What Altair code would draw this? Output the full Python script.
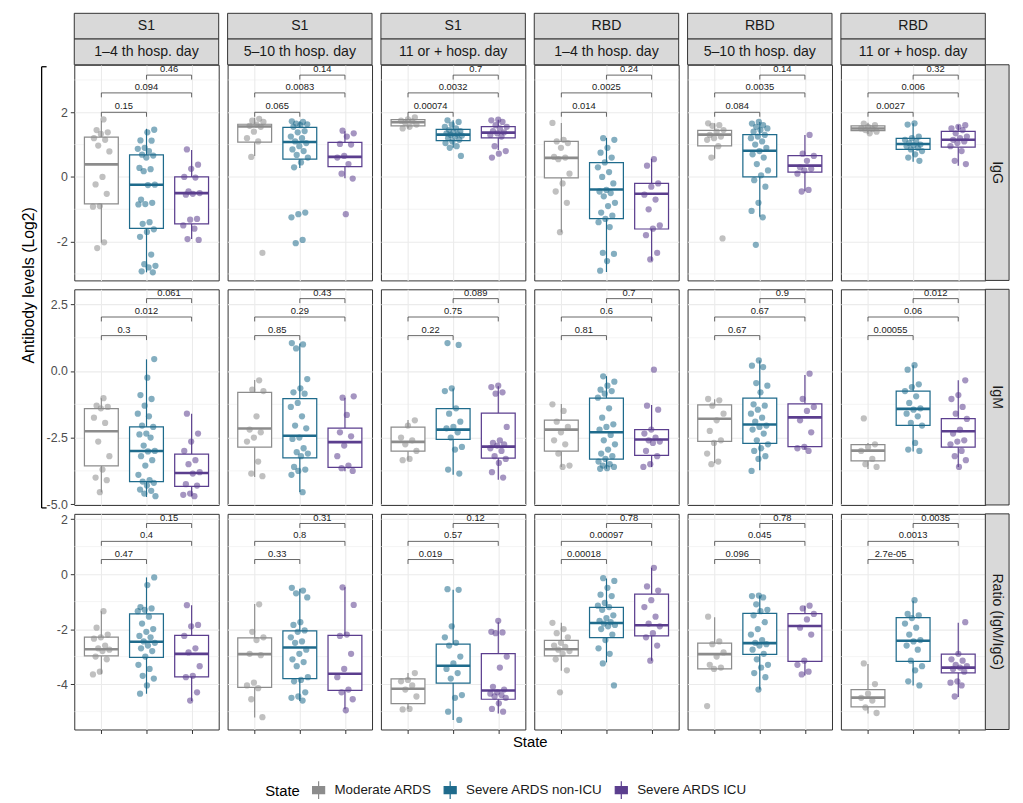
import altair as alt
import pandas as pd

# ---------------- categories / labels ----------------
STATES = ["Moderate ARDS", "Severe ARDS non-ICU", "Severe ARDS ICU"]
COLORS = ["#8C8C8C", "#1F6B8C", "#5B3E8E"]
ANTIGENS = ["S1", "S1", "S1", "RBD", "RBD", "RBD"]
PERIODS = ["1–4 th hosp. day", "5–10 th hosp. day", "11 or + hosp. day",
           "1–4 th hosp. day", "5–10 th hosp. day", "11 or + hosp. day"]
MEASURES = ["IgG", "IgM", "Ratio (IgM/IgG)"]
Y_TITLE = "Antibody levels (Log2)"
X_TITLE = "State"

# ---------------- points (per panel: [moderate, severe non-ICU, severe ICU]) ----------------
IGG_S1_D1 = [
    [1.78, 1.45, 1.38, 1.33, 1.2, 1.15, 0.97, 0.79, 0.0, -0.23, -0.52, -0.9, -0.92, -2.02, -2.2],
    [1.46, 1.38, 1.13, 1.12, 0.9, 0.87, 0.8, 0.69, 0.66, 0.6, 0.28, 0.24, 0.18, -0.24, -0.25, -0.7, -0.8,
     -0.84, -0.85, -1.4, -1.45, -1.62, -1.7, -1.85, -2.4, -2.7, -2.75, -2.8, -2.92, -2.95],
    [0.85, 0.38, 0.25, 0.0, -0.02, -0.45, -0.5, -0.52, -0.55, -1.3, -1.32, -1.5, -1.6, -1.92, -1.95],
]
IGG_S1_D2 = [
    [1.8, 1.74, 1.7, 1.62, 1.58, 1.55, 1.4, 1.2, 1.1, 0.62, -2.35],
    [1.72, 1.7, 1.65, 1.63, 1.6, 1.55, 1.42, 1.38, 1.25, 1.2, 1.1, 1.05, 0.95, 0.85, 0.8, 0.68, 0.6, 0.45,
     0.3, -1.1, -1.15, -1.25, -1.95, -2.05],
    [1.43, 1.35, 1.25, 1.02, 1.0, 0.65, 0.6, 0.4, 0.1, -0.05, -1.15],
]
IGG_S1_D3 = [
    [1.84, 1.78, 1.74, 1.72, 1.68, 1.62, 1.55, 1.5],
    [1.75, 1.7, 1.62, 1.55, 1.5, 1.45, 1.42, 1.38, 1.35, 1.32, 1.3, 1.28, 1.25, 1.2, 1.15, 1.1, 1.05, 0.95,
     0.9, 0.65],
    [1.77, 1.75, 1.7, 1.6, 1.55, 1.5, 1.42, 1.38, 1.35, 1.3, 1.25, 0.95, 0.8, 0.72, 0.6],
]
IGG_RBD_D1 = [
    [1.67, 1.15, 1.1, 1.05, 0.9, 0.62, 0.6, 0.55, 0.1, -0.2, -0.45, -0.8, -1.71],
    [1.2, 1.15, 0.9, 0.75, 0.6, 0.45, 0.3, 0.15, 0.0, -0.2, -0.4, -0.45, -0.5, -0.6, -0.8, -0.9, -1.1,
     -1.2, -1.3, -1.4, -1.55, -2.35, -2.38, -2.6, -2.9],
    [0.55, 0.35, -0.2, -0.3, -0.55, -0.7, -1.0, -1.5, -1.6, -1.8, -2.35, -2.55],
]
IGG_RBD_D2 = [
    [1.66, 1.6, 1.58, 1.45, 1.4, 1.3, 1.25, 1.2, 1.15, 0.95, 0.6, -1.9],
    [1.7, 1.65, 1.6, 1.55, 1.5, 1.45, 1.4, 1.3, 1.25, 1.2, 1.1, 1.0, 0.9, 0.8, 0.7, 0.6, 0.4, 0.2, 0.05,
     -0.1, -0.3, -0.8, -1.05, -1.25, -2.1],
    [1.3, 0.72, 0.65, 0.5, 0.3, 0.25, 0.2, 0.1, -0.4, -0.45],
]
IGG_RBD_D3 = [
    [1.65, 1.6, 1.55, 1.5, 1.48, 1.45, 1.4, 1.35],
    [1.66, 1.62, 1.25, 1.2, 1.15, 1.1, 1.05, 1.0, 0.98, 0.95, 0.9, 0.85, 0.8, 0.7, 0.6, 0.5],
    [1.6, 1.55, 1.5, 1.45, 1.35, 1.25, 1.2, 1.15, 1.1, 1.05, 0.95, 0.8, 0.5, 0.4],
]
IGM_S1_D1 = [
    [-1.02, -1.3, -1.35, -1.4, -1.75, -1.95, -2.65, -3.2, -3.7, -4.0, -4.1, -4.55],
    [0.45, -0.25, -0.9, -1.05, -1.3, -1.6, -1.7, -2.05, -2.1, -2.35, -2.38, -2.5, -2.8, -3.0, -3.02, -3.2,
     -3.35, -3.55, -3.9, -4.1, -4.15, -4.2, -4.3, -4.45, -4.5, -4.6, -4.7],
    [-1.6, -2.35, -2.65, -3.0, -3.35, -3.5, -3.8, -3.85, -4.25, -4.3, -4.6, -4.65, -4.7],
]
IGM_S1_D2 = [
    [-0.35, -0.7, -0.75, -1.7, -2.2, -2.3, -2.5, -2.65, -3.4, -3.85, -3.95],
    [1.05, 1.0, 0.85, -0.3, -0.65, -0.8, -0.85, -1.2, -1.35, -1.7, -2.05, -2.15, -2.5, -2.55, -2.9, -3.05,
     -3.1, -3.2, -3.6, -3.7, -3.75, -3.9, -4.55],
    [-1.0, -0.95, -1.65, -2.3, -2.45, -2.8, -3.2, -3.55, -3.65, -3.75],
]
IGM_S1_D3 = [
    [-1.85, -2.05, -2.5, -2.6, -2.75, -3.0, -3.3, -3.35],
    [1.05, 0.98, -0.65, -0.75, -1.4, -1.6, -1.9, -2.1, -2.15, -2.3, -2.5, -2.85, -2.95, -3.7, -3.85],
    [-0.55, -0.6, -0.8, -0.85, -2.1, -2.6, -2.7, -2.75, -2.8, -2.9, -3.0, -3.2, -3.3, -3.45, -3.8, -4.0],
]
IGM_RBD_D1 = [
    [-1.25, -1.5, -1.9, -2.1, -2.3, -2.6, -2.75, -3.1, -3.55, -3.6],
    [-0.2, -0.4, -0.55, -0.7, -0.75, -0.85, -1.0, -1.4, -1.75, -2.0, -2.1, -2.2, -2.4, -2.6, -2.75, -2.95,
     -3.1, -3.2, -3.3, -3.4, -3.5, -3.55, -3.6, -3.65, -3.67],
    [0.05, -1.3, -1.45, -2.2, -2.35, -2.5, -2.6, -2.65, -2.7, -3.0, -3.2, -3.5, -3.6],
]
IGM_RBD_D2 = [
    [-1.05, -1.1, -1.3, -1.6, -1.85, -2.25, -2.6, -2.7, -3.1, -3.4, -3.5],
    [0.4, 0.2, 0.15, -0.45, -0.55, -0.8, -1.25, -1.3, -1.45, -1.6, -1.75, -1.9, -2.05, -2.1, -2.2, -2.35,
     -2.6, -2.75, -2.9, -3.0, -3.2, -3.3, -3.75],
    [-0.1, -1.05, -1.35, -1.5, -1.85, -2.3, -2.85, -2.9, -3.0],
]
IGM_RBD_D3 = [
    [-1.78, -2.75, -2.85, -3.0, -3.3, -3.5, -3.6],
    [0.22, 0.05, -0.5, -0.6, -0.75, -0.95, -1.2, -1.4, -1.45, -1.6, -1.7, -1.95, -2.05, -2.7, -2.95, -3.0],
    [-0.35, -0.9, -1.05, -1.35, -1.6, -1.8, -2.2, -2.35, -2.6, -2.65, -2.75, -3.0, -3.2, -3.35, -3.6],
]
RAT_S1_D1 = [
    [-1.35, -1.95, -2.2, -2.3, -2.35, -2.6, -2.7, -2.75, -2.8, -3.0, -3.1, -3.55, -3.65],
    [-0.12, -0.4, -1.2, -1.25, -1.3, -1.35, -1.55, -1.8, -2.0, -2.1, -2.25, -2.3, -2.45, -2.5, -2.6, -2.7,
     -2.8, -3.0, -3.3, -3.45, -3.7, -3.8, -4.05, -4.35],
    [-1.13, -1.85, -1.9, -2.25, -2.7, -2.85, -3.35, -3.7, -3.75, -4.3, -4.6],
]
RAT_S1_D2 = [
    [-1.1, -2.1, -2.3, -2.4, -2.9, -2.95, -3.95, -4.05, -4.15, -4.55, -5.2],
    [-0.5, -0.6, -0.7, -0.85, -1.75, -1.85, -2.05, -2.1, -2.3, -2.45, -2.5, -2.75, -2.9, -3.1, -3.2, -3.35,
     -3.75, -3.85, -3.9, -4.3, -4.45, -4.5, -4.6],
    [-0.48, -1.12, -2.2, -2.25, -2.9, -3.45, -3.75, -4.2, -4.3, -4.55, -4.95],
]
RAT_S1_D3 = [
    [-3.6, -3.85, -3.9, -4.05, -4.2, -4.45, -4.9, -4.92],
    [-0.55, -0.57, -1.9, -2.3, -2.5, -2.6, -3.0, -3.25, -3.45, -3.6, -3.8, -4.4, -4.5, -5.0, -5.3],
    [-1.7, -2.1, -2.12, -2.15, -3.0, -3.4, -4.1, -4.2, -4.3, -4.35, -4.4, -4.45, -4.5, -4.7, -4.9, -5.0],
]
RAT_RBD_D1 = [
    [-1.77, -2.0, -2.15, -2.3, -2.5, -2.6, -2.65, -2.75, -2.8, -2.9, -3.1, -3.5, -4.3],
    [-0.15, -0.25, -0.5, -0.75, -0.8, -1.05, -1.15, -1.2, -1.3, -1.5, -1.6, -1.7, -1.75, -1.8, -1.85, -1.9,
     -2.0, -2.2, -2.4, -2.7, -2.9, -3.25, -4.05],
    [0.23, -0.45, -0.6, -0.95, -1.2, -1.55, -1.8, -1.9, -2.15, -2.3, -2.6, -3.15],
]
RAT_RBD_D2 = [
    [-1.55, -2.45, -2.55, -2.85, -3.0, -3.3, -3.4, -3.45, -4.8],
    [-0.78, -0.8, -0.85, -1.1, -1.3, -1.35, -1.5, -1.75, -2.0, -2.2, -2.4, -2.5, -2.55, -2.6, -2.75, -2.9,
     -3.1, -3.3, -3.4, -3.6, -3.75, -4.2],
    [-1.15, -1.25, -1.45, -1.65, -1.95, -2.2, -3.15, -3.3, -3.55, -3.65],
]
RAT_RBD_D3 = [
    [-3.25, -4.0, -4.35, -4.5, -4.6, -4.85, -5.05],
    [-0.95, -1.45, -1.5, -1.6, -1.8, -1.95, -2.2, -2.4, -2.45, -2.6, -2.75, -3.15, -3.35, -3.5, -3.9, -4.05],
    [-1.75, -2.9, -3.1, -3.15, -3.3, -3.35, -3.4, -3.45, -3.55, -3.9, -3.95, -4.05, -4.45],
]

# ---------------- box statistics: [lower whisker, Q1, median, Q3, upper whisker] ----------------
IGG_BOX = [
    [[-2.03, -0.83, 0.39, 1.23, 1.74], [-2.95, -1.59, -0.24, 0.68, 1.49], [-1.92, -1.45, -0.5, 0.0, 0.83]],
    [[0.65, 1.08, 1.56, 1.63, 1.83], [0.28, 0.55, 1.08, 1.53, 1.72], [-0.04, 0.32, 0.62, 1.07, 1.41]],
    [[1.5, 1.58, 1.69, 1.77, 1.85], [0.9, 1.12, 1.31, 1.47, 1.75], [0.83, 1.21, 1.37, 1.56, 1.77]],
    [[-1.71, -0.03, 0.59, 1.1, 1.67], [-2.94, -1.29, -0.39, 0.44, 1.21], [-2.59, -1.61, -0.52, -0.2, 0.56]],
    [[0.56, 0.96, 1.31, 1.44, 1.66], [-1.23, 0.0, 0.81, 1.31, 1.7], [-0.44, 0.15, 0.35, 0.66, 1.3]],
    [[1.33, 1.43, 1.5, 1.58, 1.68], [0.47, 0.85, 1.02, 1.19, 1.66], [0.35, 0.92, 1.15, 1.41, 1.61]],
]
IGM_BOX = [
    [[-4.55, -3.56, -2.26, -1.41, -1.02], [-4.73, -4.15, -3.0, -2.1, 0.44], [-4.7, -4.33, -3.83, -3.12, -1.6]],
    [[-3.98, -2.86, -2.16, -0.8, -0.34], [-4.54, -3.26, -2.43, -1.04, 1.03], [-3.76, -3.62, -2.67, -2.14, -1.0]],
    [[-3.36, -3.01, -2.66, -2.11, -1.84], [-3.9, -2.57, -2.2, -1.41, -0.66], [-4.08, -3.27, -2.84, -1.58, -0.57]],
    [[-3.6, -3.01, -2.2, -1.84, -1.24], [-3.67, -3.31, -2.3, -1.02, -0.19], [-3.6, -3.17, -2.57, -2.2, -1.28]],
    [[-3.46, -2.64, -1.79, -1.27, -1.06], [-3.73, -2.72, -2.01, -1.02, 0.4], [-2.95, -2.84, -1.74, -1.23, -0.15]],
    [[-3.68, -3.37, -2.99, -2.76, -2.7], [-3.02, -2.04, -1.42, -0.75, 0.22], [-3.6, -2.86, -2.26, -1.79, -0.35]],
]
RAT_BOX = [
    [[-3.63, -2.97, -2.73, -2.29, -1.35], [-4.35, -3.03, -2.46, -1.45, -0.12], [-4.61, -3.74, -2.9, -2.23, -1.13]],
    [[-5.21, -4.12, -2.91, -2.32, -1.09], [-4.61, -3.8, -2.67, -2.06, -0.53], [-4.91, -4.23, -3.62, -2.23, -0.48]],
    [[-4.9, -4.71, -4.17, -3.81, -3.6], [-5.3, -3.96, -3.33, -2.55, -0.57], [-5.07, -4.55, -4.23, -2.89, -1.75]],
    [[-3.51, -2.97, -2.73, -2.41, -1.77], [-3.21, -2.31, -1.78, -1.21, -0.16], [-3.15, -2.25, -1.86, -0.73, 0.23]],
    [[-3.45, -3.45, -2.91, -2.51, -1.57], [-4.2, -2.92, -2.51, -1.43, -0.78], [-3.69, -3.17, -1.89, -1.44, -1.15]],
    [[-5.07, -4.83, -4.49, -4.2, -3.27], [-4.05, -3.17, -2.42, -1.58, -0.97], [-4.47, -3.59, -3.4, -2.91, -1.77]],
]

# ---------------- p-values: pairs (1-2), (1-3), (2-3) ----------------
P_IGG = [["0.15", "0.094", "0.46"], ["0.065", "0.0083", "0.14"], ["0.00074", "0.0032", "0.7"],
         ["0.014", "0.0025", "0.24"], ["0.084", "0.0035", "0.14"], ["0.0027", "0.006", "0.32"]]
P_IGM = [["0.3", "0.012", "0.061"], ["0.85", "0.29", "0.43"], ["0.22", "0.75", "0.089"],
         ["0.81", "0.6", "0.7"], ["0.67", "0.67", "0.9"], ["0.00055", "0.06", "0.012"]]
P_RAT = [["0.47", "0.4", "0.15"], ["0.33", "0.8", "0.31"], ["0.019", "0.57", "0.12"],
         ["0.00018", "0.00097", "0.78"], ["0.096", "0.045", "0.78"], ["2.7e-05", "0.0013", "0.0035"]]
PAIRS = [(1, 2), (1, 3), (2, 3)]
BRACKET_Y = [[2.0, 2.6, 3.15], [1.33, 2.03, 2.72], [0.53, 1.19, 1.84]]

# ---------------- axes ----------------
Y_DOMAINS = [[-3.2, 3.47], [-5.03, 3.07], [-5.65, 2.19]]
Y_TICKS = [[-2, 0, 2], [-5.0, -2.5, 0.0, 2.5], [-4, -2, 0, 2]]
Y_MINOR = [[-3, -1, 1, 3], [-3.75, -1.25, 1.25], [-5, -3, -1, 1]]
Y_FMT = [".0f", ".1f", ".0f"]

POINTS = [
    [IGG_S1_D1, IGG_S1_D2, IGG_S1_D3, IGG_RBD_D1, IGG_RBD_D2, IGG_RBD_D3],
    [IGM_S1_D1, IGM_S1_D2, IGM_S1_D3, IGM_RBD_D1, IGM_RBD_D2, IGM_RBD_D3],
    [RAT_S1_D1, RAT_S1_D2, RAT_S1_D3, RAT_RBD_D1, RAT_RBD_D2, RAT_RBD_D3],
]
BOXES = [IGG_BOX, IGM_BOX, RAT_BOX]
PVALS = [P_IGG, P_IGM, P_RAT]

# ---------------- style ----------------
W, H, GAP = 146, 218, 9
STRIP = 26
FONT = "Liberation Sans"
GRID = "#EBEBEB"
BORDER = "#333333"
STRIP_FILL = "#D9D9D9"
BOX_PATH = ("M-0.68,-0.4L0.68,-0.4L0.68,0.4L-0.68,0.4Z"
            "M-0.68,0L0.68,0M0,-0.4L0,-1M0,0.4L0,1")

LEGEND = alt.Legend(
    title=X_TITLE, orient="none", legendX=193, legendY=723, direction="horizontal",
    titleOrient="left", titleFontSize=15, titleFontWeight="normal", titleColor="#000000",
    titleFont=FONT, titlePadding=8, titleBaseline="middle",
    labelFontSize=13.5, labelColor="#1A1A1A", labelFont=FONT, labelOffset=6,
    symbolType=BOX_PATH, symbolSize=320, symbolStrokeWidth=1.2, symbolFillColor="white",
    columnPadding=8,
)

one = pd.DataFrame({"k": [0]})


def y_axis(r, c):
    kw = dict(values=Y_TICKS[r], grid=True, gridColor=GRID, gridWidth=1.1, domain=False)
    if c == 0:
        kw.update(labels=True, ticks=True, tickSize=4, tickColor=BORDER, tickWidth=1,
                  labelFontSize=12.5, labelColor="#4D4D4D", labelPadding=3, labelFont=FONT,
                  labelExpr="(datum.value < 0 ? '-' : '') + format(abs(datum.value), '%s')" % Y_FMT[r])
    else:
        kw.update(labels=False, ticks=False)
    if r == 0 and c == 0:
        kw.update(title=Y_TITLE, titleX=-38, titleY=H + GAP / 2, titleFontSize=16,
                  titleFontWeight="normal", titleColor="#000000", titleFont=FONT,
                  titleAlign="center", titleBaseline="bottom", titleAngle=270)
    else:
        kw.update(title=None)
    return alt.Axis(**kw)


def x_axis(r, c):
    kw = dict(values=[1, 2, 3], grid=True, gridColor=GRID, gridWidth=1.1, domain=False, labels=False)
    if r == 2:
        kw.update(ticks=True, tickSize=4, tickColor=BORDER, tickWidth=1)
    else:
        kw.update(ticks=False)
    if r == 2 and c == 2:
        kw.update(title=X_TITLE, titleX=W + GAP / 2, titleFontSize=15, titleFontWeight="normal",
                  titleColor="#000000", titleFont=FONT, titlePadding=1, titleAlign="center",
                  titleBaseline="top")
    else:
        kw.update(title=None)
    return alt.Axis(**kw)


def make_panel(r, c):
    pts, bx, pv = POINTS[r][c], BOXES[r][c], PVALS[r][c]
    xs = alt.Scale(domain=[0.4, 3.6], nice=False, zero=False)
    ys = alt.Scale(domain=Y_DOMAINS[r], nice=False, zero=False)
    xa, ya = x_axis(r, c), y_axis(r, c)

    def X(f):
        return alt.X(f + ":Q", scale=xs, axis=xa)

    def Y(f):
        return alt.Y(f + ":Q", scale=ys, axis=ya)

    stroke = alt.Stroke("state:N", scale=alt.Scale(domain=STATES, range=COLORS), legend=LEGEND)
    color = alt.Color("state:N", scale=alt.Scale(domain=STATES, range=COLORS), legend=None)

    prow = []
    for g in range(3):
        for k, v in enumerate(pts[g]):
            off = (((k + 1) * 0.6180339 + 0.31 * g + 0.13 * c) % 1.0 - 0.5) * 0.4
            prow.append({"state": STATES[g], "xpos": g + 1 + off, "val": v})
    pdf = pd.DataFrame(prow)
    bdf = pd.DataFrame([{"state": STATES[g], "x": g + 1, "xl": g + 1 - 0.375, "xr": g + 1 + 0.375,
                         "lo": b[0], "q1": b[1], "med": b[2], "q3": b[3], "hi": b[4]}
                        for g, b in enumerate(bx)])
    mdf = pd.DataFrame({"m": Y_MINOR[r]})
    hdf = pd.DataFrame([{"x1": a, "x2": b, "xm": (a + b) / 2, "lev": BRACKET_Y[r][i], "lab": pv[i]}
                        for i, (a, b) in enumerate(PAIRS)])
    tdf = pd.DataFrame([{"xt": xv, "lev": BRACKET_Y[r][i]}
                        for i, (a, b) in enumerate(PAIRS) for xv in (a, b)])

    layers = [
        alt.Chart(mdf).mark_rule(color=GRID, strokeWidth=0.55).encode(y=Y("m")),
        alt.Chart(bdf).mark_rule(strokeWidth=1.15).encode(x=X("x"), y=Y("lo"), y2="q1", stroke=stroke),
        alt.Chart(bdf).mark_rule(strokeWidth=1.15).encode(x=X("x"), y=Y("q3"), y2="hi", stroke=stroke),
        alt.Chart(bdf).mark_rect(fill="white", strokeWidth=1.25).encode(
            x=X("xl"), x2="xr", y=Y("q1"), y2="q3", stroke=stroke),
        alt.Chart(bdf).mark_rule(strokeWidth=2.6).encode(x=X("xl"), x2="xr", y=Y("med"), stroke=stroke),
        alt.Chart(pdf).mark_circle(size=40, opacity=0.55).encode(x=X("xpos"), y=Y("val"), color=color),
        alt.Chart(hdf).mark_rule(color="#404040", strokeWidth=0.8).encode(x=X("x1"), x2="x2", y=Y("lev")),
        alt.Chart(tdf).mark_rule(color="#404040", strokeWidth=0.8, y2Offset=4.5).encode(
            x=X("xt"), y=Y("lev"), y2="lev"),
        alt.Chart(hdf).mark_text(fontSize=9.5, baseline="bottom", dy=-1, color="#1A1A1A", font=FONT).encode(
            x=X("xm"), y=Y("lev"), text="lab:N"),
    ]
    if r == 0:
        for lab, y0 in [(ANTIGENS[c], -2 * STRIP), (PERIODS[c], -STRIP)]:
            layers.append(alt.Chart(one).mark_rect(fill=STRIP_FILL, stroke=BORDER, strokeWidth=1).encode(
                x=alt.value(0), x2=alt.value(W), y=alt.value(y0), y2=alt.value(y0 + STRIP)))
            layers.append(alt.Chart(one).mark_text(text=lab, fontSize=14.3, color="#1A1A1A", font=FONT,
                                                   baseline="middle", align="center").encode(
                x=alt.value(W / 2), y=alt.value(y0 + STRIP / 2)))
    if c == 5:
        layers.append(alt.Chart(one).mark_rect(fill=STRIP_FILL, stroke=BORDER, strokeWidth=1).encode(
            x=alt.value(W), x2=alt.value(W + 24), y=alt.value(0), y2=alt.value(H)))
        layers.append(alt.Chart(one).mark_text(text=MEASURES[r], fontSize=14.3, color="#1A1A1A", font=FONT,
                                               angle=90, baseline="middle", align="center").encode(
            x=alt.value(W + 12), y=alt.value(H / 2)))
    if r == 0 and c == 0:
        bx0, top, bot = -33, 2, 2 * H + GAP + 3
        layers.append(alt.Chart(one).mark_rule(color="#000000", strokeWidth=1.3).encode(
            x=alt.value(bx0), y=alt.value(top), y2=alt.value(bot)))
        layers.append(alt.Chart(one).mark_rule(color="#000000", strokeWidth=1.3).encode(
            x=alt.value(bx0), x2=alt.value(bx0 + 5), y=alt.value(top)))
        layers.append(alt.Chart(one).mark_rule(color="#000000", strokeWidth=1.3).encode(
            x=alt.value(bx0), x2=alt.value(bx0 + 5), y=alt.value(bot)))
    return alt.layer(*layers).properties(width=W, height=H)


panels = [make_panel(r, c) for r in range(3) for c in range(6)]
chart = alt.concat(*panels, columns=6, spacing=GAP, bounds="flush").properties(
    padding={"left": 12, "top": 0, "right": 5, "bottom": 5}
).configure(font=FONT).configure_view(stroke=BORDER, strokeWidth=1)

chart.save("out.html", embed_options={"renderer": "svg", "actions": False})
